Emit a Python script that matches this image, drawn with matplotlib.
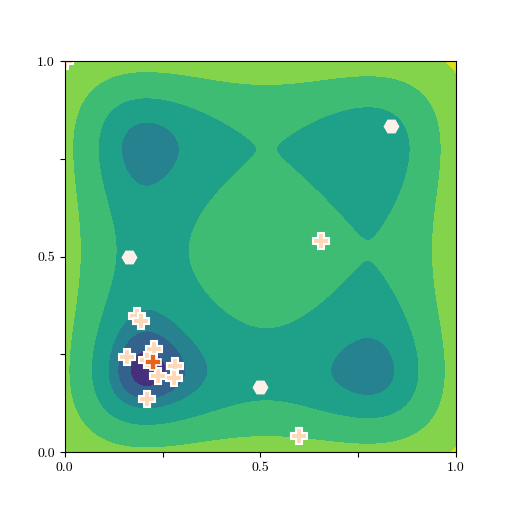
import numpy as np
import matplotlib.pyplot as plt

plt.rcParams["font.family"] = "serif"
plt.rcParams["font.serif"] = ["cmr10"]
plt.rcParams["axes.formatter.use_mathtext"] = True

# objective: per-dimension quartic (Styblinski-Tang), domain mapped to [0, 1]
quartic_coef = [0.5, 0.0, -8.0, 2.5, 0.0]
domain = [-5.0, 5.0]

# contour levels (height above the global minimum)
level_offsets = [3.5, 12.0, 23.0, 53.0, 122.0, 284.0]
band_colors = [plt.cm.viridis(v) for v in [0.14, 0.3125, 0.4375, 0.5625, 0.6875, 0.8125, 0.9375]]

# initial design points (hexagons)
init_x = [0.833, 0.164, 0.5]
init_y = [0.833, 0.5, 0.167]

# query points (pluses)
query_x = [0.0, 0.185, 0.195, 0.16, 0.229, 0.21, 0.282, 0.278, 0.239, 0.209, 0.656, 0.6]
query_y = [1.0, 0.349, 0.336, 0.242, 0.263, 0.235, 0.22, 0.189, 0.195, 0.135, 0.541, 0.041]

# best point
best_x = [0.226]
best_y = [0.2315]

u = np.linspace(0, 1, 300)
U, V = np.meshgrid(u, u)
lo, hi = domain
Z = np.polyval(quartic_coef, lo + (hi - lo) * U) + np.polyval(quartic_coef, lo + (hi - lo) * V)
zmin = Z.min()
levels = [zmin - 1] + [zmin + d for d in level_offsets] + [Z.max() + 1]

fig = plt.figure(figsize=(5.08, 5.08), dpi=100)
ax = fig.add_subplot(111)
ax.contourf(U, V, Z, levels=levels, colors=band_colors)

ax.plot(init_x, init_y, "H", ms=11.5, color="#fdf0e8", mec="none", ls="none")
ax.plot(query_x, query_y, "P", ms=11, color="#fdd9b8", mec="white", mew=1.5, ls="none")
ax.plot(best_x, best_y, "P", ms=11, color="#e8641b", mec="white", mew=1.2, ls="none")

ax.set_xlim(0, 1)
ax.set_ylim(0, 1)
ax.set_aspect("equal")
ticks = [0, 0.25, 0.5, 0.75, 1.0]
ax.set_xticks(ticks, ["0.0", "", "0.5", "", "1.0"])
ax.set_yticks(ticks, ["0.0", "", "0.5", "", "1.0"])

plt.savefig("out.png")
